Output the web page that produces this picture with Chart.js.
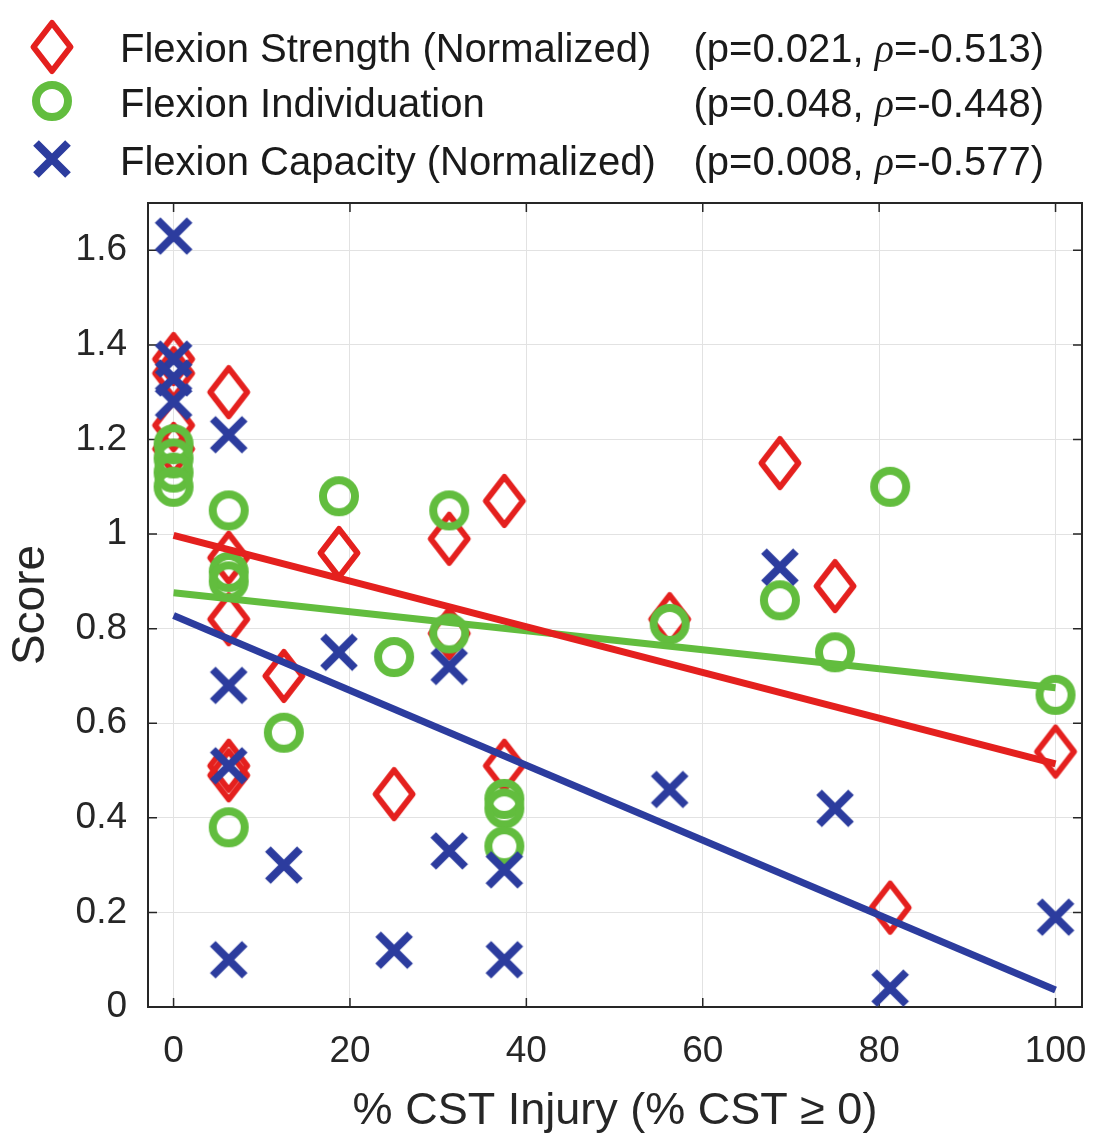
<!DOCTYPE html>
<html>
<head>
<meta charset="utf-8">
<title>CST injury scores</title>
<script src="https://cdn.jsdelivr.net/npm/chart.js@4/dist/chart.umd.min.js"></script>
<style>
html, body { margin: 0; padding: 0; background: #fff; }
canvas { display: block; }
</style>
</head>
<body>
<canvas id="chart" width="1104" height="1141"></canvas>
<script>
// values
const xTicks = [0, 20, 40, 60, 80, 100];
const yTicks = [0, 0.2, 0.4, 0.6, 0.8, 1, 1.2, 1.4, 1.6];

const strengthX = [0, 0, 0, 0, 6.25, 6.25, 6.25, 6.25, 6.25, 12.5, 18.75, 25, 31.25, 31.25, 37.5, 37.5, 56.25, 68.75, 75, 81.25, 100];
const strengthY = [1.37, 1.34, 1.23, 1.18, 1.30, 0.95, 0.82, 0.51, 0.49, 0.70, 0.96, 0.45, 0.99, 0.79, 1.07, 0.51, 0.82, 1.15, 0.89, 0.21, 0.54];

const individX = [0, 0, 0, 0, 6.25, 6.25, 6.25, 6.25, 12.5, 18.75, 25, 31.25, 31.25, 37.5, 37.5, 37.5, 56.25, 68.75, 75, 81.25, 100];
const individY = [1.19, 1.16, 1.13, 1.10, 1.05, 0.92, 0.90, 0.38, 0.58, 1.08, 0.74, 1.05, 0.79, 0.44, 0.42, 0.34, 0.81, 0.86, 0.75, 1.10, 0.66];

const capacityX = [0, 0, 0, 0, 6.25, 6.25, 6.25, 6.25, 12.5, 18.75, 25, 31.25, 31.25, 37.5, 37.5, 56.25, 68.75, 75, 81.25, 100];
const capacityY = [1.63, 1.37, 1.33, 1.28, 1.21, 0.68, 0.51, 0.10, 0.30, 0.75, 0.12, 0.72, 0.33, 0.29, 0.10, 0.46, 0.93, 0.42, 0.04, 0.19];

// regression lines (end points)
const fitX = [0, 100];
const strengthFit = [0.997, 0.514];
const individFit = [0.876, 0.675];
const capacityFit = [0.828, 0.036];

const seriesNames = ['Flexion Strength (Normalized)', 'Flexion Individuation', 'Flexion Capacity (Normalized)'];
const pValues = ['0.021', '0.048', '0.008'];
const rhoValues = ['-0.513', '-0.448', '-0.577'];

const RED = '#e4201e';
const GREEN = '#62bd3e';
const BLUE = '#2c3c9e';
const FONT = '"Liberation Sans", Arial, Helvetica, sans-serif';

function toPoints(xs, ys) {
  return xs.map((x, i) => ({ x: x, y: ys[i] }));
}

// marker images, MATLAB style
function makeMarker(kind, color) {
  const c = document.createElement('canvas');
  c.width = 50;
  c.height = kind === 'diamond' ? 62 : 50;
  const g = c.getContext('2d');
  const cx = c.width / 2, cy = c.height / 2;
  g.strokeStyle = color;
  g.beginPath();
  if (kind === 'diamond') {
    g.lineWidth = 6;
    g.lineJoin = 'round';
    g.moveTo(cx, cy - 24);
    g.lineTo(cx + 18.5, cy);
    g.lineTo(cx, cy + 24);
    g.lineTo(cx - 18.5, cy);
    g.closePath();
  } else if (kind === 'circle') {
    g.lineWidth = 8;
    g.arc(cx, cy, 16, 0, Math.PI * 2);
  } else {
    g.lineWidth = 8;
    g.moveTo(cx - 16, cy - 16); g.lineTo(cx + 16, cy + 16);
    g.moveTo(cx + 16, cy - 16); g.lineTo(cx - 16, cy + 16);
  }
  g.stroke();
  return c;
}

const diamond = makeMarker('diamond', RED);
const circle = makeMarker('circle', GREEN);
const cross = makeMarker('cross', BLUE);

// box + inward ticks, drawn below the data like MATLAB's Layer 'bottom'
const axesBox = {
  id: 'axesBox',
  beforeDatasetsDraw(chart) {
    const { ctx, chartArea: a, scales } = chart;
    const tl = 9;
    ctx.save();
    ctx.strokeStyle = '#262626';
    ctx.lineWidth = 1.5;
    ctx.beginPath();
    xTicks.forEach(v => {
      const px = scales.x.getPixelForValue(v);
      ctx.moveTo(px, a.bottom); ctx.lineTo(px, a.bottom - tl);
      ctx.moveTo(px, a.top); ctx.lineTo(px, a.top + tl);
    });
    yTicks.forEach(v => {
      const py = scales.y.getPixelForValue(v);
      ctx.moveTo(a.left, py); ctx.lineTo(a.left + tl, py);
      ctx.moveTo(a.right, py); ctx.lineTo(a.right - tl, py);
    });
    ctx.stroke();
    ctx.lineWidth = 2;
    ctx.strokeRect(a.left, a.top, a.right - a.left, a.bottom - a.top);
    ctx.restore();
  }
};

// legend with p / rho column
const legendBox = {
  id: 'legendBox',
  afterDraw(chart) {
    const ctx = chart.ctx;
    const markers = [diamond, circle, cross];
    const markerY = [47, 101, 159];
    const baseY = [62, 117, 175];
    const rightX = 1044;
    ctx.save();
    ctx.fillStyle = '#1a1a1a';
    ctx.textBaseline = 'alphabetic';
    for (let i = 0; i < 3; i++) {
      const m = markers[i];
      ctx.drawImage(m, 52 - m.width / 2, markerY[i] - m.height / 2);
      ctx.font = '40px ' + FONT;
      ctx.textAlign = 'left';
      ctx.fillText(seriesNames[i], 120, baseY[i]);

      const pre = '(p=' + pValues[i] + ', ';
      const rho = 'ρ';
      const post = '=' + rhoValues[i] + ')';
      ctx.font = '40px ' + FONT;
      const wPre = ctx.measureText(pre).width;
      const wPost = ctx.measureText(post).width;
      ctx.font = 'italic 40px "Liberation Serif", "Times New Roman", serif';
      const wRho = ctx.measureText(rho).width;
      let x = rightX - wPre - wRho - wPost;
      ctx.font = '40px ' + FONT;
      ctx.fillText(pre, x, baseY[i]);
      x += wPre;
      ctx.font = 'italic 40px "Liberation Serif", "Times New Roman", serif';
      ctx.fillText(rho, x, baseY[i]);
      x += wRho;
      ctx.font = '40px ' + FONT;
      ctx.fillText(post, x, baseY[i]);
    }
    ctx.restore();
  }
};

const scatterSet = (label, pts, style, order) => ({
  type: 'scatter',
  label: label,
  data: pts,
  pointStyle: style,
  pointRadius: 20,
  pointHoverRadius: 20,
  showLine: false,
  clip: false,
  order: order
});

const lineSet = (label, ys, color, order) => ({
  type: 'line',
  label: label,
  data: toPoints(fitX, ys),
  borderColor: color,
  borderWidth: 7,
  pointRadius: 0,
  fill: false,
  order: order
});

new Chart(document.getElementById('chart'), {
  type: 'scatter',
  data: {
    datasets: [
      scatterSet(seriesNames[0], toPoints(strengthX, strengthY), diamond, 6),
      scatterSet(seriesNames[1], toPoints(individX, individY), circle, 5),
      scatterSet(seriesNames[2], toPoints(capacityX, capacityY), cross, 4),
      lineSet('fit individuation', individFit, GREEN, 3),
      lineSet('fit strength', strengthFit, RED, 2),
      lineSet('fit capacity', capacityFit, BLUE, 1)
    ]
  },
  options: {
    responsive: false,
    animation: false,
    layout: { padding: { top: 203, right: 22, left: 0, bottom: 0 } },
    plugins: {
      legend: { display: false },
      tooltip: { enabled: false }
    },
    scales: {
      x: {
        type: 'linear',
        min: -2.9,
        max: 103,
        afterBuildTicks: s => { s.ticks = xTicks.map(v => ({ value: v })); },
        afterFit: s => { s.height = 134; s.paddingRight = 0; s.paddingLeft = 0; },
        grid: { color: '#e2e2e2', lineWidth: 1, drawTicks: false },
        border: { display: false },
        ticks: {
          autoSkip: false,
          maxRotation: 0,
          padding: 26,
          color: '#262626',
          font: { family: FONT, size: 37, lineHeight: 1 },
          callback: v => String(v)
        },
        title: {
          display: true,
          text: '% CST Injury (% CST ≥ 0)',
          color: '#262626',
          font: { family: FONT, size: 45, lineHeight: 1 },
          padding: { top: 0, bottom: 7 }
        }
      },
      y: {
        type: 'linear',
        min: 0,
        max: 1.7,
        afterBuildTicks: s => { s.ticks = yTicks.map(v => ({ value: v })); },
        afterFit: s => { s.width = 148; },
        grid: { color: '#e2e2e2', lineWidth: 1, drawTicks: false },
        border: { display: false },
        ticks: {
          autoSkip: false,
          padding: 21,
          color: '#262626',
          font: { family: FONT, size: 37, lineHeight: 1 },
          callback: v => String(Math.round(v * 10) / 10)
        },
        title: {
          display: true,
          text: 'Score',
          color: '#262626',
          font: { family: FONT, size: 46, lineHeight: 1 },
          padding: { top: 8, bottom: 0 }
        }
      }
    }
  },
  plugins: [axesBox, legendBox]
});
</script>
</body>
</html>
